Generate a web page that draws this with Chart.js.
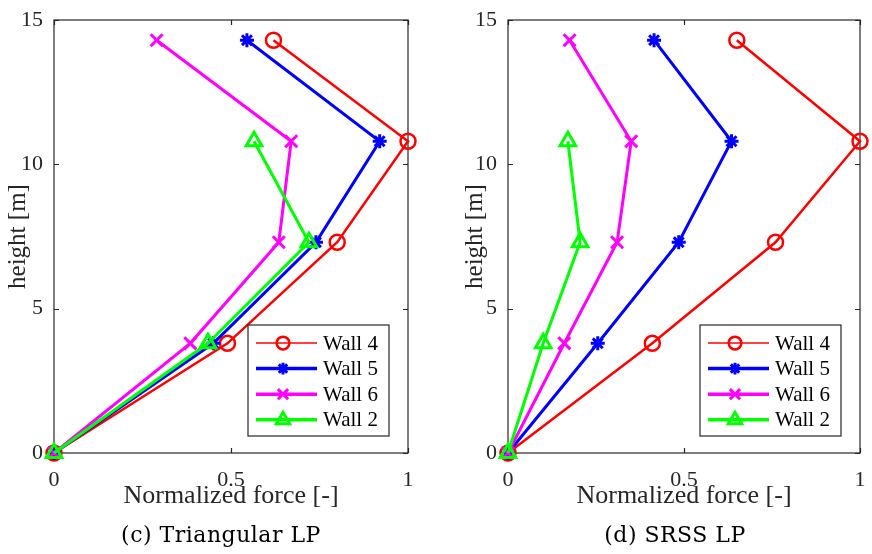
<!DOCTYPE html>
<html>
<head>
<meta charset="utf-8">
<title>Normalized force profiles</title>
<script src="https://cdn.jsdelivr.net/npm/chart.js@4.4.0/dist/chart.umd.min.js"></script>
<style>
    body { margin: 0; background: #fff; }
    #wrap { position: relative; width: 872px; height: 554px; overflow: hidden; }
    #wrap canvas { position: absolute; top: 0; }
    .caption {
        position: absolute;
        top: 521px;
        font-family: "DejaVu Serif", serif;
        font-size: 22px;
        line-height: 28px;
        letter-spacing: 0.5px;
        white-space: nowrap;
        transform: translateX(-50%);
        color: #000;
    }
</style>
</head>
<body>
<div id="wrap">
    <canvas id="triChart" width="436" height="554" style="left:0"></canvas>
    <canvas id="srssChart" width="436" height="554" style="left:436px"></canvas>
    <div class="caption" style="left:221px">(c) Triangular LP</div>
    <div class="caption" style="left:675px">(d) SRSS LP</div>
</div>

<script>
// Storey heights [m]
const heights = [0, 3.8, 7.3, 10.8, 14.3];
const wallNames = ['Wall 4', 'Wall 5', 'Wall 6', 'Wall 2'];

// Triangular load pattern, normalized force per storey
const wall4Tri = [0, 0.49, 0.80, 1.0, 0.62];
const wall5Tri = [0, 0.45, 0.74, 0.92, 0.545];
const wall6Tri = [0, 0.385, 0.635, 0.67, 0.29];
const wall2Tri = [0, 0.435, 0.72, 0.565];

// SRSS load pattern
const wall4Srss = [0, 0.41, 0.76, 1.0, 0.65];
const wall5Srss = [0, 0.255, 0.485, 0.635, 0.415];
const wall6Srss = [0, 0.16, 0.31, 0.35, 0.175];
const wall2Srss = [0, 0.10, 0.205, 0.17];

const AXIS_COLOR = '#262626';
const TICK_LEN = 5;
const SERIF = '"Liberation Serif", "Times New Roman", serif';

// line / marker look per wall (same order as wallNames)
const wallStyles = [
    { color: '#ff0000', pointStyle: 'circle', radius: 7.5, lineWidth: 2.5, legendLine: 1.5, order: 3 },
    { color: '#0000ff', pointStyle: 'star', radius: 7, lineWidth: 3, legendLine: 3.5, order: 2 },
    { color: '#ff00ff', pointStyle: 'crossRot', radius: 8.5, lineWidth: 3, legendLine: 3.5, order: 1 },
    { color: '#00ff00', pointStyle: 'triangle', radius: 9, lineWidth: 3, legendLine: 3.5, order: 0 }
];

function buildDatasets(seriesList) {
    return seriesList.map((values, i) => {
        const s = wallStyles[i];
        return {
            label: wallNames[i],
            data: values.map((v, k) => ({ x: v, y: heights[k] })),
            showLine: true,
            borderColor: s.color,
            backgroundColor: 'rgba(0,0,0,0)',
            borderWidth: s.lineWidth,
            pointStyle: s.pointStyle,
            pointRadius: s.radius,
            pointBorderWidth: s.lineWidth,
            pointBorderColor: s.color,
            pointBackgroundColor: 'rgba(0,0,0,0)',
            legendLine: s.legendLine,
            order: s.order,
            clip: false
        };
    });
}

// Box around the plot area with inward ticks on all four sides
const axesBox = {
    id: 'axesBox',
    beforeDatasetsDraw(chart) {
        const { ctx, chartArea: a, scales: { x, y } } = chart;
        ctx.save();
        ctx.strokeStyle = AXIS_COLOR;
        ctx.lineWidth = 1.2;
        ctx.beginPath();
        x.ticks.forEach(t => {
            const px = Math.round(x.getPixelForValue(t.value)) + 0.5;
            ctx.moveTo(px, a.bottom); ctx.lineTo(px, a.bottom - TICK_LEN);
            ctx.moveTo(px, a.top); ctx.lineTo(px, a.top + TICK_LEN);
        });
        y.ticks.forEach(t => {
            const py = Math.round(y.getPixelForValue(t.value)) + 0.5;
            ctx.moveTo(a.left, py); ctx.lineTo(a.left + TICK_LEN, py);
            ctx.moveTo(a.right, py); ctx.lineTo(a.right - TICK_LEN, py);
        });
        ctx.stroke();
        ctx.strokeRect(a.left, a.top, a.width, a.height);
        ctx.restore();
    }
};

// Legend box in the lower right corner of the plot area
const innerLegend = {
    id: 'innerLegend',
    afterDatasetsDraw(chart) {
        const { ctx, chartArea: a } = chart;
        const w = 141, h = 111, rowH = 25.6;
        const left = a.right - 19 - w;
        const top = a.bottom - 17 - h;
        ctx.save();
        ctx.fillStyle = '#fff';
        ctx.fillRect(left, top, w, h);
        ctx.strokeStyle = AXIS_COLOR;
        ctx.lineWidth = 1.2;
        ctx.strokeRect(left, top, w, h);
        ctx.font = '21px ' + SERIF;
        ctx.textBaseline = 'middle';
        chart.data.datasets.forEach((ds, i) => {
            const cy = top + 18 + i * rowH;
            ctx.strokeStyle = ds.borderColor;
            ctx.lineWidth = ds.legendLine;
            ctx.beginPath();
            ctx.moveTo(left + 8, cy);
            ctx.lineTo(left + 69, cy);
            ctx.stroke();
            ctx.lineWidth = ds.pointBorderWidth;
            ctx.fillStyle = 'rgba(0,0,0,0)';
            Chart.helpers.drawPoint(ctx, {
                pointStyle: ds.pointStyle,
                radius: ds.pointRadius * 0.85,
                borderWidth: ds.pointBorderWidth,
                rotation: 0
            }, left + 35, cy);
            ctx.fillStyle = '#000';
            ctx.fillText(ds.label, left + 75, cy + 1);
        });
        ctx.restore();
    }
};

function makeChart(canvasId, seriesList, yAxisWidth, yTitlePad, rightPad) {
    return new Chart(document.getElementById(canvasId), {
        type: 'scatter',
        data: { datasets: buildDatasets(seriesList) },
        options: {
            responsive: false,
            animation: false,
            layout: { padding: { top: 20, right: rightPad, bottom: 42, left: 0 } },
            plugins: {
                legend: { display: false },
                tooltip: { enabled: false }
            },
            scales: {
                x: {
                    type: 'linear',
                    min: 0,
                    max: 1,
                    afterFit: scale => {
                        scale.height = 59;
                        scale.paddingLeft = 0;
                        scale.paddingRight = 0;
                    },
                    grid: { display: false, drawTicks: false },
                    border: { display: false },
                    ticks: {
                        stepSize: 0.5,
                        padding: 14,
                        color: AXIS_COLOR,
                        font: { family: SERIF, size: 22 },
                        callback: v => String(v)
                    },
                    title: {
                        display: true,
                        text: 'Normalized force [-]',
                        color: AXIS_COLOR,
                        font: { family: SERIF, size: 26 },
                        padding: { top: 0, bottom: 0 }
                    }
                },
                y: {
                    type: 'linear',
                    min: 0,
                    max: 15,
                    afterFit: scale => {
                        scale.width = yAxisWidth;
                        scale.paddingTop = 0;
                        scale.paddingBottom = 0;
                    },
                    grid: { display: false, drawTicks: false },
                    border: { display: false },
                    ticks: {
                        stepSize: 5,
                        padding: 11,
                        color: AXIS_COLOR,
                        font: { family: SERIF, size: 22 }
                    },
                    title: {
                        display: true,
                        text: 'height [m]',
                        color: AXIS_COLOR,
                        font: { family: SERIF, size: 25 },
                        padding: { top: yTitlePad, bottom: 0 }
                    }
                }
            }
        },
        plugins: [axesBox, innerLegend]
    });
}

makeChart('triChart', [wall4Tri, wall5Tri, wall6Tri, wall2Tri], 54, 3, 28);
makeChart('srssChart', [wall4Srss, wall5Srss, wall6Srss, wall2Srss], 72, 24, 10);
</script>
</body>
</html>
